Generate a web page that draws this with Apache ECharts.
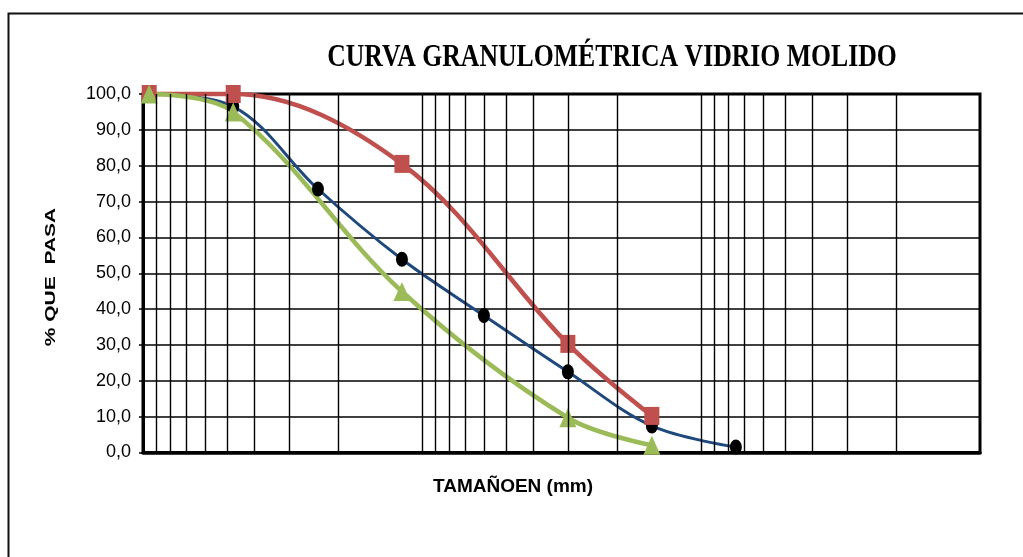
<!DOCTYPE html>
<html>
<head>
<meta charset="utf-8">
<title>Curva granulométrica</title>
<script src="https://cdn.jsdelivr.net/npm/echarts@6/dist/echarts.min.js"></script>
<style>
  html, body { margin: 0; padding: 0; background: #fff; }
  #chart { width: 1023px; height: 557px; }
</style>
</head>
<body>
<div id="chart"></div>
<script>
// Sieve openings (mm) and percent passing for each sample
const sizesAll = [9.5, 4.75, 2.36, 1.18, 0.6, 0.3, 0.15, 0.075];
const passBlue = [100, 96.5, 73.5, 53.9, 38.2, 22.5, 7.4, 1.5];

const sizesLimits = [9.5, 4.75, 1.18, 0.3, 0.15];
const passUpper = [100, 100, 80.5, 30.3, 10.2];
const passLower = [100, 95, 44.9, 9.7, 2.0];

// Log-paper grid: decades and the 1..9 multiples inside each one
const decades = [0.01, 0.1, 1];
const multiples = [1, 2, 3, 4, 5, 6, 7, 8, 9];

const titleText = 'CURVA GRANULOMÉTRICA VIDRIO MOLIDO';
const yName = '% QUE  PASA';
const xName = 'TAMAÑOEN (mm)';

const pairs = (xs, ys) => xs.map((x, i) => [x, ys[i]]);

const vLines = [];
decades.forEach(d => multiples.forEach(m => {
  const v = +(d * m).toPrecision(3);
  if (v > 0.01 && v < 10) vLines.push({ xAxis: v });
}));

const chart = echarts.init(document.getElementById('chart'), null, { renderer: 'canvas' });

chart.setOption({
  animation: false,
  backgroundColor: '#fff',
  grid: {
    left: 143, right: 43, top: 94, bottom: 104.5,
    show: true, borderColor: '#000', borderWidth: 3, backgroundColor: 'transparent'
  },
  xAxis: {
    type: 'log', logBase: 10, min: 0.01, max: 10, inverse: true,
    axisLine: { show: true, lineStyle: { color: '#000', width: 3.5 } },
    axisTick: { show: false },
    axisLabel: { show: false },
    splitLine: { show: false }
  },
  yAxis: {
    type: 'value', min: 0, max: 100, interval: 10,
    axisLine: { show: true, lineStyle: { color: '#000', width: 3 } },
    axisTick: { show: true, inside: false, length: 4, lineStyle: { color: '#000', width: 1.5 } },
    axisLabel: {
      margin: 12, color: '#000', fontSize: 18, fontFamily: '"Liberation Sans", Arial, sans-serif',
      padding: [6, 0, 0, 0],
      formatter: v => v.toFixed(1).replace('.', ',')
    },
    splitLine: { show: true, lineStyle: { color: '#000', width: 1.6 } }
  },
  graphic: [
    {
      type: 'rect', shape: { x: 8.5, y: 13.5, width: 1100, height: 700 },
      style: { fill: 'none', stroke: '#111', lineWidth: 2 }, silent: true, z: -10
    },
    {
      type: 'text', x: 612, y: 58, scaleX: 0.83, z: 10,
      style: {
        text: titleText, font: 'bold 31px "Liberation Serif", "Times New Roman", serif',
        fill: '#000', align: 'center', verticalAlign: 'middle'
      }
    },
    {
      type: 'text', x: 51, y: 277, rotation: Math.PI / 2, scaleY: 0.67, z: 10,
      style: {
        text: yName, font: 'bold 21px "Liberation Sans", Arial, sans-serif',
        fill: '#000', align: 'center', verticalAlign: 'middle'
      }
    },
    {
      type: 'text', x: 513, y: 487, z: 10,
      style: {
        text: xName, font: 'bold 19px "Liberation Sans", Arial, sans-serif',
        fill: '#000', align: 'center', verticalAlign: 'middle'
      }
    }
  ],
  series: [
    {
      name: 'grid', type: 'line', data: [], silent: true,
      markLine: {
        silent: true, symbol: ['none', 'none'], animation: false,
        label: { show: false },
        lineStyle: { color: '#000', width: 1.4, type: 'solid' },
        data: vLines
      }
    },
    {
      name: 'Muestra', type: 'line', data: pairs(sizesAll, passBlue),
      smooth: 0.35, clip: false,
      lineStyle: { color: '#1F497D', width: 3 },
      symbol: 'circle', symbolSize: [12, 15],
      itemStyle: { color: '#000' }
    },
    {
      name: 'Límite superior', type: 'line', data: pairs(sizesLimits, passUpper),
      smooth: 0.35, clip: false,
      lineStyle: { color: '#C0504D', width: 4.5 },
      symbol: 'rect', symbolSize: [15, 18],
      itemStyle: { color: '#C0504D' }
    },
    {
      name: 'Límite inferior', type: 'line', data: pairs(sizesLimits, passLower),
      smooth: 0.35, clip: false,
      lineStyle: { color: '#9BBB59', width: 4.5 },
      symbol: 'triangle', symbolSize: [17, 19],
      itemStyle: { color: '#9BBB59' }
    }
  ]
});
</script>
</body>
</html>
